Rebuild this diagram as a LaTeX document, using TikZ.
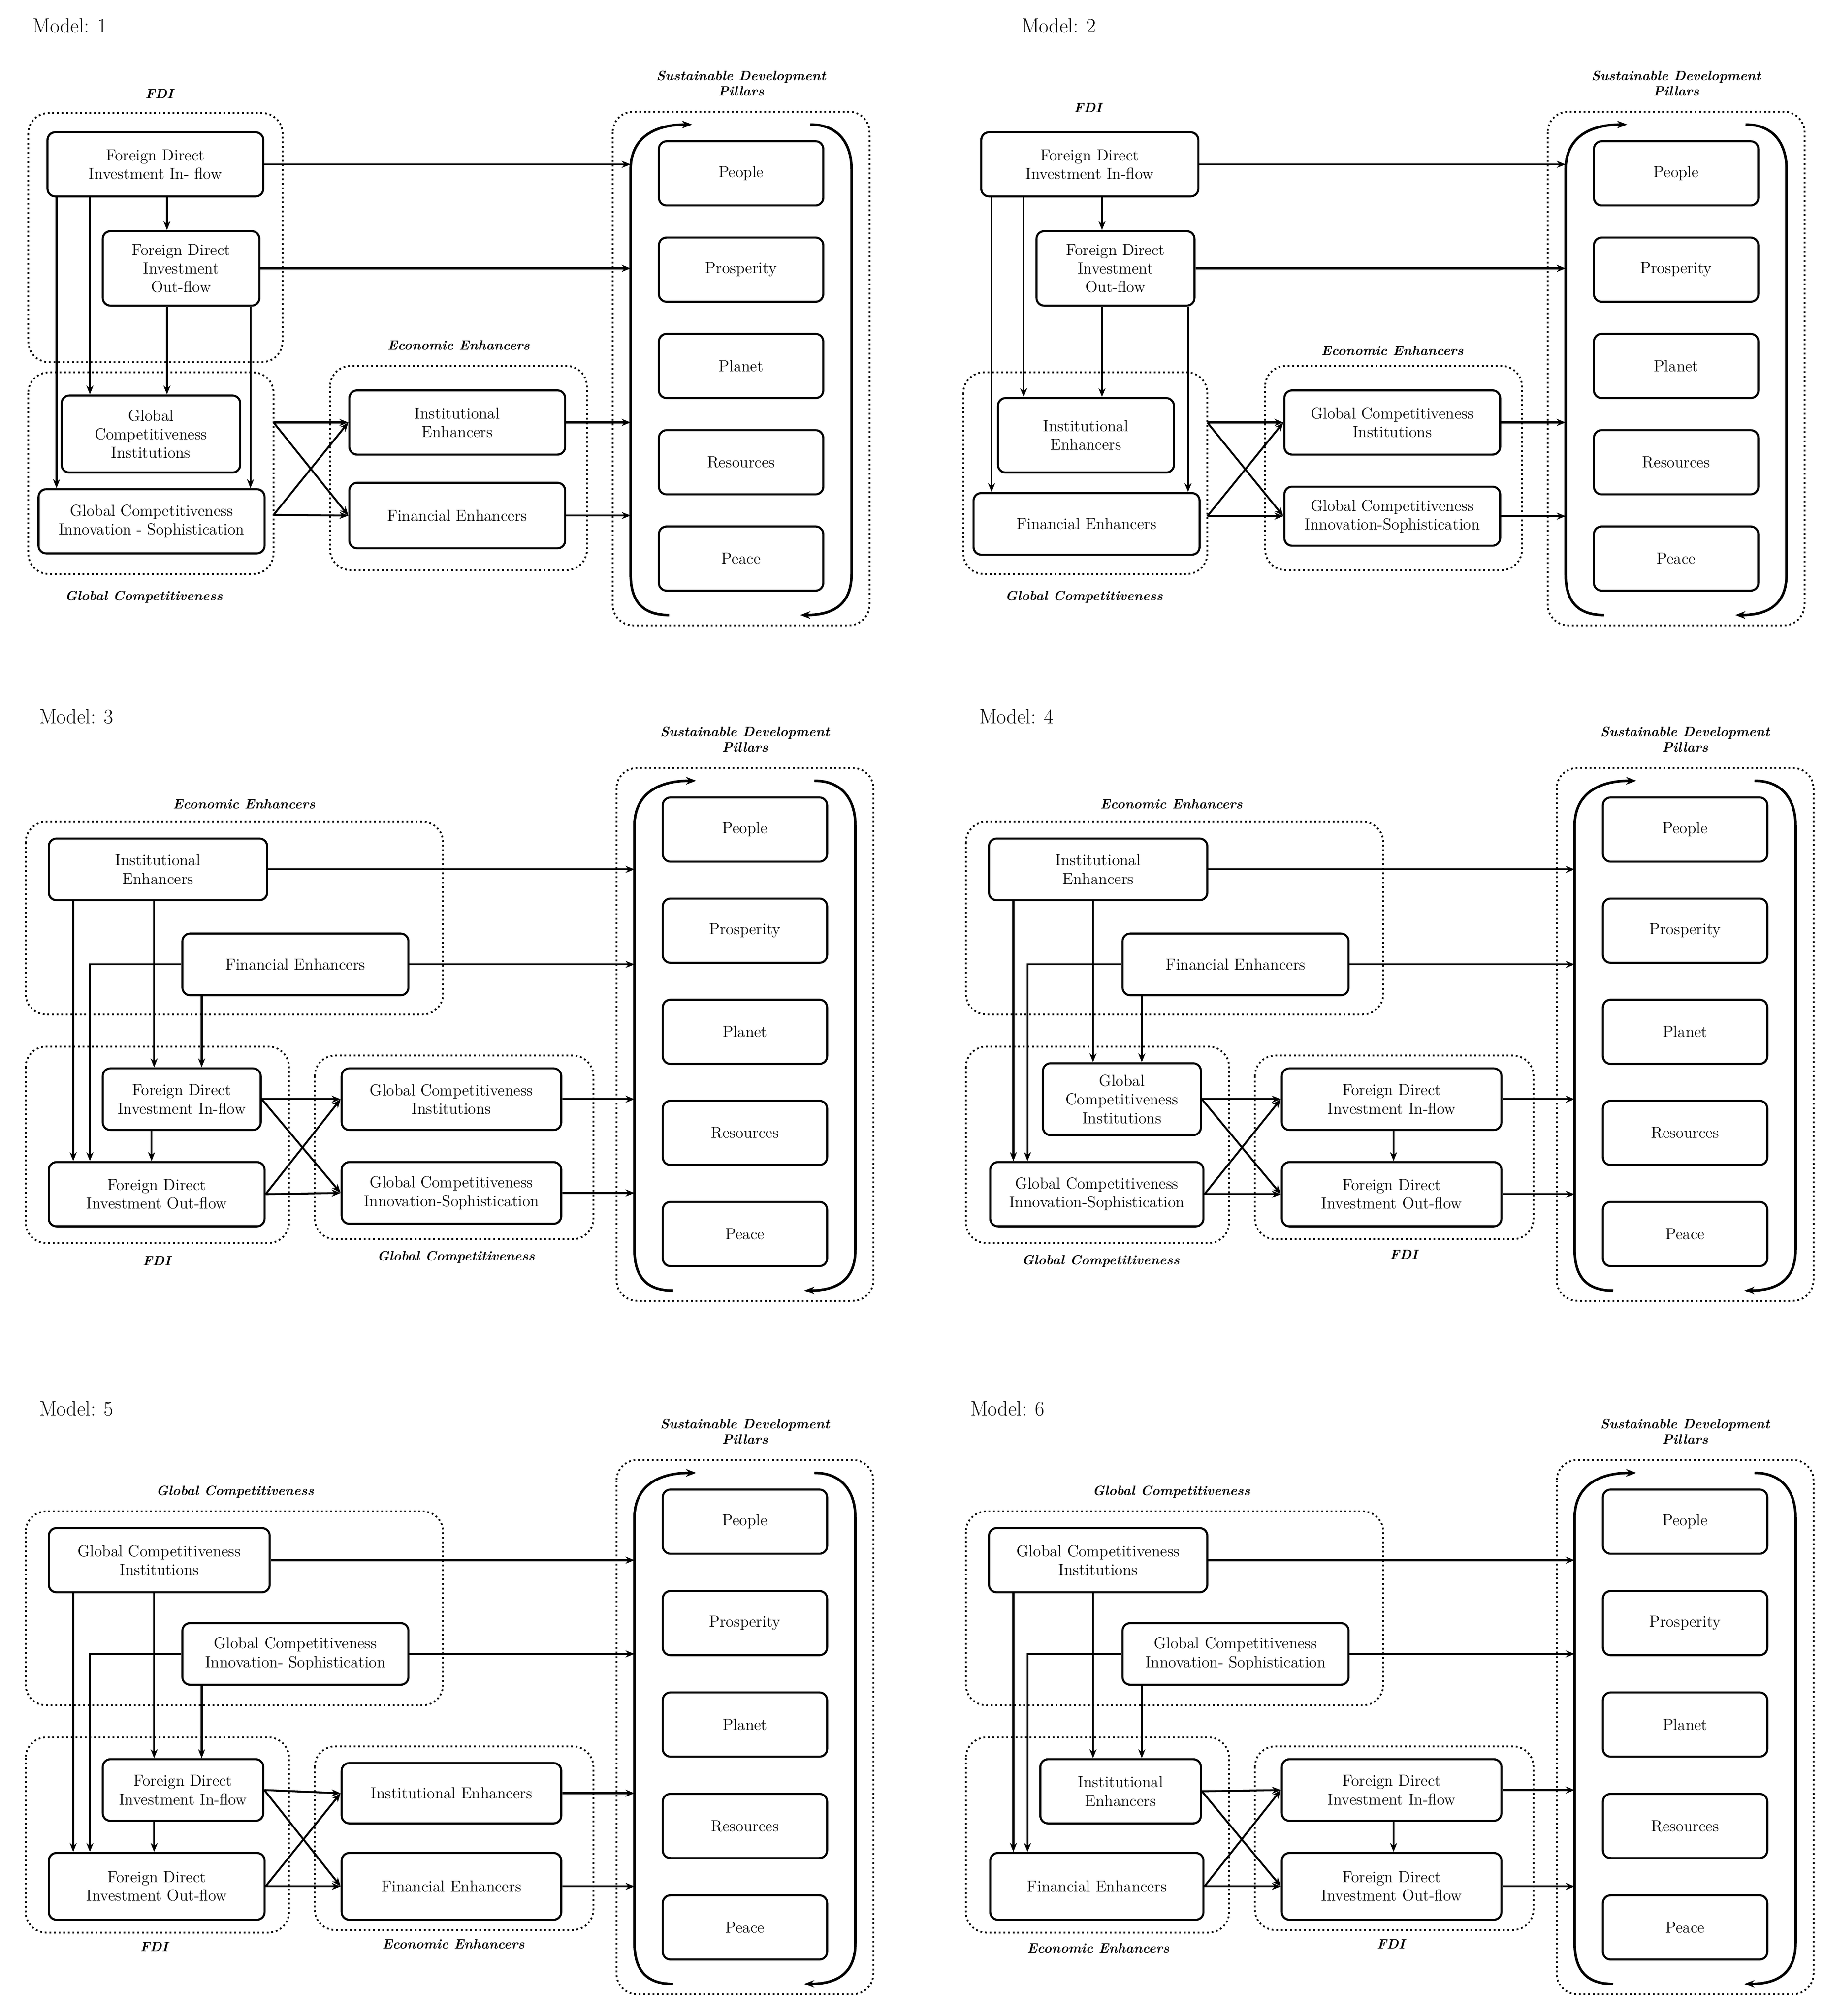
\documentclass[tikz,border=0pt]{standalone}
\usepackage{amsmath}
\usepackage{tikz}
\usetikzlibrary{arrows.meta}

\tikzset{
  box/.style={draw, line width=1.6pt, rounded corners=6pt, align=center, inner sep=1pt, font=\fontsize{12.5}{14.5}\selectfont},
  pbox/.style={box, minimum width=128, minimum height=50},
  grp/.style={line width=1.4pt, dash pattern=on 1.4pt off 2.2pt, rounded corners=16pt},
  glab/.style={font=\fontsize{10.5}{12}\selectfont\itshape\bfseries, align=center},
  mtitle/.style={anchor=west, font=\fontsize{16}{18}\selectfont},
  arr/.style={-{Stealth[length=7pt,width=5.5pt]}, line width=1.5pt},
  barr/.style={-{Stealth[length=8pt,width=6pt]}, line width=2pt}
}

% pillar column: left, top, height, name
\newcommand\pillarcol[4]{%
\begin{scope}[shift={(#1,#2)}]
\draw[grp] (0,0) rectangle (200,#3);
\node[glab] (#4lab) at (100,-22) {Sustainable Development\\Pillars};
\foreach \nm [count=\i from 0] in {People,Prosperity,Planet,Resources,Peace}
  \node[pbox] (#4p\i) at (100,{48+\i*(#3-100)/4}) {\nm};
\coordinate (#4L) at (14,0);
\draw[barr] (44,#3-8) .. controls (22,#3-8) and (14,#3-20) .. (14,#3-40) -- (14,45) .. controls (14,22) and (30,10) .. (62,10);
\draw[barr] (154,10) .. controls (176,10) and (186,25) .. (186,45) -- (186,#3-40) .. controls (186,#3-20) and (176,#3-8) .. (146,#3-8);
\end{scope}}

\begin{document}
\begin{tikzpicture}[x=1pt,y=1pt,yscale=-1]
\useasboundingbox (0,0) rectangle (1420,1570);

%%%%%%%%%%%%%%%% Model 1
\node[mtitle] (t1) at (22,20) {Model: 1};
\pillarcol{477}{87}{400}{sa}
\draw[grp] (22,88) rectangle (220,282);
\draw[grp] (22,290) rectangle (213,447);
\draw[grp] (257,285) rectangle (457,444);
\node[glab] (fdi1) at (124,73) {FDI};
\node[glab] (gc1) at (112,465) {Global Competitiveness};
\node[glab] (ee1) at (357,269) {Economic Enhancers};

\node[box, minimum width=168, minimum height=50] (in1) at (121,128) {Foreign Direct\\Investment In- flow};
\node[box, minimum width=122, minimum height=58] (out1) at (141,209) {Foreign Direct\\Investment\\Out-flow};
\node[box, minimum width=139, minimum height=60] (gci1) at (117.5,338) {Global\\Competitiveness\\Institutions};
\node[box, minimum width=176, minimum height=50] (gcis1) at (118,406) {Global Competitiveness\\Innovation - Sophistication};
\node[box, minimum width=168, minimum height=50] (ie1) at (356,329) {Institutional\\Enhancers};
\node[box, minimum width=168, minimum height=51] (fe1) at (356,401.5) {Financial Enhancers};

\foreach \n in {in1,out1,ie1,fe1}
  \draw[arr] (\n.east) -- (\n.east -| saL);
\draw[arr] (130,0 |- in1.south) -- (130,0 |- out1.north);
\draw[arr] (130,0 |- out1.south) -- (130,0 |- gci1.north);
\draw[arr] (44,0 |- in1.south) -- (44,0 |- gcis1.north);
\draw[arr] (70,0 |- in1.south) -- (70,0 |- gci1.north);
\draw[arr] (195,0 |- out1.south) -- (195,0 |- gcis1.north);
\coordinate (x1a) at (213,329);
\coordinate (x1b) at (213,401);
\draw[arr] (x1a) -- (ie1.west);
\draw[arr] (x1a) -- (fe1.west);
\draw[arr] (x1b) -- (fe1.west);
\draw[arr] (x1b) -- (ie1.west);

%%%%%%%%%%%%%%%% Model 2
\node[mtitle] (t2) at (792,20) {Model: 2};
\pillarcol{1205}{87}{400}{sb}
\draw[grp] (750,290) rectangle (940,447);
\draw[grp] (985,285) rectangle (1185,444);
\node[glab] (fdi2) at (847,84) {FDI};
\node[glab] (gc2) at (844,465) {Global Competitiveness};
\node[glab] (ee2) at (1084,273) {Economic Enhancers};

\node[box, minimum width=169, minimum height=50] (in2) at (848.5,128) {Foreign Direct\\Investment In-flow};
\node[box, minimum width=123, minimum height=58] (out2) at (868.5,209) {Foreign Direct\\Investment\\Out-flow};
\node[box, minimum width=137, minimum height=58] (ie2) at (845.5,339) {Institutional\\Enhancers};
\node[box, minimum width=176, minimum height=48] (fe2) at (846,408) {Financial Enhancers};
\node[box, minimum width=168, minimum height=50] (gci2) at (1084,329) {Global Competitiveness\\Institutions};
\node[box, minimum width=168, minimum height=46] (gcis2) at (1084,402) {Global Competitiveness\\Innovation-Sophistication};

\foreach \n in {in2,out2,gci2,gcis2}
  \draw[arr] (\n.east) -- (\n.east -| sbL);
\draw[arr] (858,0 |- in2.south) -- (858,0 |- out2.north);
\draw[arr] (858,0 |- out2.south) -- (858,0 |- ie2.north);
\draw[arr] (772,0 |- in2.south) -- (772,0 |- fe2.north);
\draw[arr] (797,0 |- in2.south) -- (797,0 |- ie2.north);
\draw[arr] (925,0 |- out2.south) -- (925,0 |- fe2.north);
\coordinate (x2a) at (940,329);
\coordinate (x2b) at (940,402);
\draw[arr] (x2a) -- (gci2.west);
\draw[arr] (x2a) -- (gcis2.west);
\draw[arr] (x2b) -- (gcis2.west);
\draw[arr] (x2b) -- (gci2.west);

%%%%%%%%%%%%%%%% Model 3
\node[mtitle] (t3) at (27,558) {Model: 3};
\pillarcol{480}{598}{415}{sc}
\draw[grp] (20,640) rectangle (345,790);
\draw[grp] (20,815) rectangle (225,968);
\draw[grp] (245,822) rectangle (462,965);
\node[glab] (ee3) at (190,626) {Economic Enhancers};
\node[glab] (fdi3) at (122,982) {FDI};
\node[glab] (gc3) at (355,979) {Global Competitiveness};

\node[box, minimum width=170, minimum height=48] (ie3) at (123,677) {Institutional\\Enhancers};
\node[box, minimum width=176, minimum height=48] (fe3) at (230,751) {Financial Enhancers};
\node[box, minimum width=123, minimum height=48] (in3) at (141.5,856) {Foreign Direct\\Investment In-flow};
\node[box, minimum width=168, minimum height=50] (out3) at (122,930) {Foreign Direct\\Investment Out-flow};
\node[box, minimum width=171, minimum height=48] (gci3) at (351.5,856) {Global Competitiveness\\Institutions};
\node[box, minimum width=171, minimum height=48] (gcis3) at (351.5,929) {Global Competitiveness\\Innovation-Sophistication};

\foreach \n in {ie3,fe3,gci3,gcis3}
  \draw[arr] (\n.east) -- (\n.east -| scL);
\draw[arr] (57,0 |- ie3.south) -- (57,0 |- out3.north);
\draw[arr] (120,0 |- ie3.south) -- (120,0 |- in3.north);
\draw[arr] (fe3.west) -| (70,0 |- out3.north);
\draw[arr] (157,0 |- fe3.south) -- (157,0 |- in3.north);
\draw[arr] (118,0 |- in3.south) -- (118,0 |- out3.north);
\draw[arr] (in3.east) -- (gci3.west);
\draw[arr] (in3.east) -- (gcis3.west);
\draw[arr] (out3.east) -- (gcis3.west);
\draw[arr] (out3.east) -- (gci3.west);

%%%%%%%%%%%%%%%% Model 4
\node[mtitle] (t4) at (759,558) {Model: 4};
\pillarcol{1212}{598}{415}{sd}
\draw[grp] (752,640) rectangle (1077,790);
\draw[grp] (752,815) rectangle (957,968);
\draw[grp] (977,822) rectangle (1194,965);
\node[glab] (ee4) at (912,626) {Economic Enhancers};
\node[glab] (gc4) at (857,982) {Global Competitiveness};
\node[glab] (fdi4) at (1093,977) {FDI};

\node[box, minimum width=170, minimum height=48] (ie4) at (855,677) {Institutional\\Enhancers};
\node[box, minimum width=176, minimum height=48] (fe4) at (962,751) {Financial Enhancers};
\node[box, minimum width=123, minimum height=56] (gci4) at (873.5,856) {Global\\Competitiveness\\Institutions};
\node[box, minimum width=166, minimum height=50] (gcis4) at (854,930) {Global Competitiveness\\Innovation-Sophistication};
\node[box, minimum width=171, minimum height=48] (in4) at (1083.5,856) {Foreign Direct\\Investment In-flow};
\node[box, minimum width=171, minimum height=50] (out4) at (1083.5,930) {Foreign Direct\\Investment Out-flow};

\foreach \n in {ie4,fe4,in4,out4}
  \draw[arr] (\n.east) -- (\n.east -| sdL);
\draw[arr] (789,0 |- ie4.south) -- (789,0 |- gcis4.north);
\draw[arr] (851,0 |- ie4.south) -- (851,0 |- gci4.north);
\draw[arr] (fe4.west) -| (800,0 |- gcis4.north);
\draw[arr] (889,0 |- fe4.south) -- (889,0 |- gci4.north);
\draw[arr] (1085,0 |- in4.south) -- (1085,0 |- out4.north);
\draw[arr] (gci4.east) -- (in4.west);
\draw[arr] (gci4.east) -- (out4.west);
\draw[arr] (gcis4.east) -- (out4.west);
\draw[arr] (gcis4.east) -- (in4.west);

%%%%%%%%%%%%%%%% Model 5
\node[mtitle] (t5) at (27,1097) {Model: 5};
\pillarcol{480}{1137}{416}{se}
\draw[grp] (20,1177) rectangle (345,1328);
\draw[grp] (20,1353) rectangle (225,1505);
\draw[grp] (245,1360) rectangle (462,1503);
\node[glab] (gc5) at (183,1162) {Global Competitiveness};
\node[glab] (fdi5) at (120,1516) {FDI};
\node[glab] (ee5) at (353,1514) {Economic Enhancers};

\node[box, minimum width=172, minimum height=50] (gci5) at (124,1215) {Global Competitiveness\\Institutions};
\node[box, minimum width=176, minimum height=48] (gcis5) at (230,1288) {Global Competitiveness\\Innovation- Sophistication};
\node[box, minimum width=125, minimum height=48] (in5) at (142.5,1394) {Foreign Direct\\Investment In-flow};
\node[box, minimum width=168, minimum height=52] (out5) at (122,1469) {Foreign Direct\\Investment Out-flow};
\node[box, minimum width=171, minimum height=47] (ie5) at (351.5,1396.5) {Institutional Enhancers};
\node[box, minimum width=171, minimum height=52] (fe5) at (351.5,1469) {Financial Enhancers};

\foreach \n in {gci5,gcis5,ie5,fe5}
  \draw[arr] (\n.east) -- (\n.east -| seL);
\draw[arr] (57,0 |- gci5.south) -- (57,0 |- out5.north);
\draw[arr] (120,0 |- gci5.south) -- (120,0 |- in5.north);
\draw[arr] (gcis5.west) -| (70,0 |- out5.north);
\draw[arr] (157,0 |- gcis5.south) -- (157,0 |- in5.north);
\draw[arr] (120,0 |- in5.south) -- (120,0 |- out5.north);
\draw[arr] (in5.east) -- (ie5.west);
\draw[arr] (in5.east) -- (fe5.west);
\draw[arr] (out5.east) -- (fe5.west);
\draw[arr] (out5.east) -- (ie5.west);

%%%%%%%%%%%%%%%% Model 6
\node[mtitle] (t6) at (752,1097) {Model: 6};
\pillarcol{1212}{1137}{416}{sf}
\draw[grp] (752,1177) rectangle (1077,1328);
\draw[grp] (752,1353) rectangle (957,1505);
\draw[grp] (977,1360) rectangle (1194,1503);
\node[glab] (gc6) at (912,1162) {Global Competitiveness};
\node[glab] (ee6) at (855,1517) {Economic Enhancers};
\node[glab] (fdi6) at (1083,1514) {FDI};

\node[box, minimum width=170, minimum height=50] (gci6) at (855,1215) {Global Competitiveness\\Institutions};
\node[box, minimum width=176, minimum height=48] (gcis6) at (962,1288) {Global Competitiveness\\Innovation- Sophistication};
\node[box, minimum width=125, minimum height=50] (ie6) at (872.5,1395) {Institutional\\Enhancers};
\node[box, minimum width=166, minimum height=52] (fe6) at (854,1469) {Financial Enhancers};
\node[box, minimum width=171, minimum height=48] (in6) at (1083.5,1394) {Foreign Direct\\Investment In-flow};
\node[box, minimum width=171, minimum height=52] (out6) at (1083.5,1469) {Foreign Direct\\Investment Out-flow};

\foreach \n in {gci6,gcis6,in6,out6}
  \draw[arr] (\n.east) -- (\n.east -| sfL);
\draw[arr] (789,0 |- gci6.south) -- (789,0 |- fe6.north);
\draw[arr] (851,0 |- gci6.south) -- (851,0 |- ie6.north);
\draw[arr] (gcis6.west) -| (800,0 |- fe6.north);
\draw[arr] (889,0 |- gcis6.south) -- (889,0 |- ie6.north);
\draw[arr] (1085,0 |- in6.south) -- (1085,0 |- out6.north);
\draw[arr] (ie6.east) -- (in6.west);
\draw[arr] (ie6.east) -- (out6.west);
\draw[arr] (fe6.east) -- (out6.west);
\draw[arr] (fe6.east) -- (in6.west);

\end{tikzpicture}
\end{document}
